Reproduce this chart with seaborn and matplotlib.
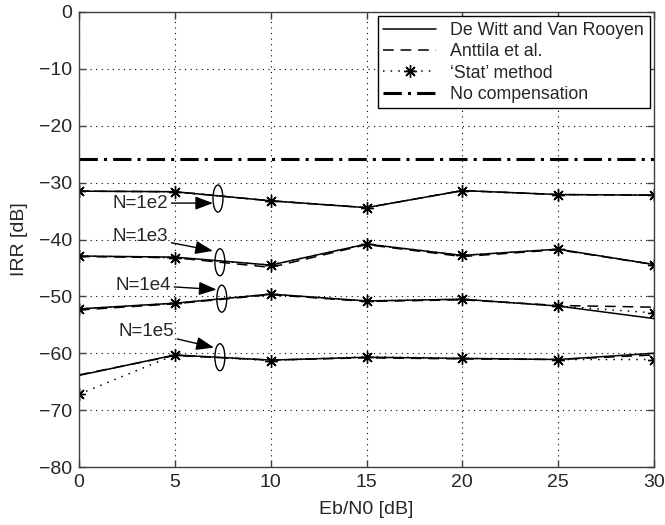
import numpy as np
import seaborn as sns
import matplotlib
matplotlib.use("Agg")
import matplotlib.pyplot as plt
from matplotlib.patches import Ellipse

# Datos
ebn0 = [0, 5, 10, 15, 20, 25, 30]
niveles = ["N=1e2", "N=1e3", "N=1e4", "N=1e5"]

dewitt = {
    "N=1e2": [-31.5, -31.6, -33.2, -34.4, -31.4, -32.1, -32.2],
    "N=1e3": [-42.9, -43.1, -44.5, -40.8, -42.8, -41.7, -44.4],
    "N=1e4": [-52.2, -51.2, -49.6, -50.8, -50.5, -51.7, -53.9],
    "N=1e5": [-63.9, -60.3, -61.2, -60.7, -60.9, -61.1, -60.0],
}
anttila = {
    "N=1e2": [-31.5, -31.6, -33.2, -34.4, -31.4, -32.1, -32.2],
    "N=1e3": [-43.0, -43.2, -44.9, -40.9, -43.0, -41.8, -44.4],
    "N=1e4": [-52.4, -51.3, -49.7, -50.9, -50.6, -51.6, -51.9],
    "N=1e5": [-63.8, -60.4, -61.2, -60.8, -61.0, -61.1, -60.3],
}
stat = {
    "N=1e2": [-31.5, -31.6, -33.2, -34.4, -31.4, -32.1, -32.2],
    "N=1e3": [-42.9, -43.2, -44.5, -40.8, -42.8, -41.7, -44.4],
    "N=1e4": [-52.2, -51.2, -49.6, -50.8, -50.5, -51.7, -52.9],
    "N=1e5": [-67.2, -60.3, -61.3, -60.6, -60.9, -61.1, -61.1],
}
sin_comp = [-25.9] * len(ebn0)

# Anotaciones: posicion del texto, punta de flecha, centro de elipse
texto_xy = {"N=1e2": (3.2, -33.6), "N=1e3": (3.2, -39.5), "N=1e4": (3.35, -48.0), "N=1e5": (3.5, -56.2)}
flecha_xy = {"N=1e2": (6.99, -33.6), "N=1e3": (6.99, -42.0), "N=1e4": (7.18, -48.8), "N=1e5": (7.04, -59.0)}
elipse_xy = {"N=1e2": (7.25, -32.8), "N=1e3": (7.35, -44.0), "N=1e4": (7.45, -50.4), "N=1e5": (7.35, -60.7)}

sns.set_style("white")
plt.rcParams["font.family"] = ["Liberation Sans", "DejaVu Sans"]
plt.rcParams["font.size"] = 14

fig = plt.figure(figsize=(6.65, 5.25), dpi=100)
ax = fig.add_axes([79 / 665, 58 / 525, 575 / 665, 455 / 525])

asterisco = (8, 2, 0)
for i, n in enumerate(niveles):
    sns.lineplot(x=ebn0, y=dewitt[n], ax=ax, color="k", lw=1.1, linestyle="-",
                 label="De Witt and Van Rooyen" if i == 0 else None)
    sns.lineplot(x=ebn0, y=anttila[n], ax=ax, color="k", lw=1.1, linestyle=(0, (7, 4.5)),
                 label="Anttila et al." if i == 0 else None)
    sns.lineplot(x=ebn0, y=stat[n], ax=ax, color="k", lw=1.1, linestyle=(0, (1, 4)),
                 marker=asterisco, markersize=9, markeredgewidth=1.0,
                 markeredgecolor="k", markerfacecolor="k",
                 label="\u2018Stat\u2019 method" if i == 0 else None)
sns.lineplot(x=ebn0, y=sin_comp, ax=ax, color="k", lw=2.2, linestyle=(0, (6, 2, 1, 2)),
             label="No compensation")

for n in niveles:
    ax.annotate(n, xy=flecha_xy[n], xytext=texto_xy[n], ha="center", va="center",
                fontsize=13.5,
                arrowprops=dict(arrowstyle="-|>,head_length=0.8,head_width=0.3",
                                color="k", lw=1.0, shrinkA=0, shrinkB=0))
    ax.add_patch(Ellipse(elipse_xy[n], 0.52, 4.75, facecolor="none", edgecolor="k", lw=1.0))

ax.set_xlim(0, 30)
ax.set_ylim(-80, 0)
ax.set_xticks(range(0, 31, 5))
ax.set_yticks(range(-80, 1, 10))
ax.grid(True, color="k", linestyle=(0, (1, 4)), lw=0.8)
ax.tick_params(direction="in", length=5, width=1.0, bottom=True, left=True, top=True, right=True,
               color="#404040", labelsize=14, pad=5)
for s in ax.spines.values():
    s.set_color("#404040")
    s.set_linewidth(1.0)

ax.set_xlabel("Eb/N0 [dB]", fontsize=14, labelpad=7)
ax.set_ylabel("IRR [dB]", fontsize=14, labelpad=8)

leg = ax.legend(loc="upper right", fontsize=12.8, frameon=True, fancybox=False,
                framealpha=1, edgecolor="k", handlelength=3.0, handletextpad=0.8,
                labelspacing=0.25, borderpad=0.3, borderaxespad=0.25)
leg.get_frame().set_linewidth(1.0)

plt.savefig("out.png", dpi=100)
